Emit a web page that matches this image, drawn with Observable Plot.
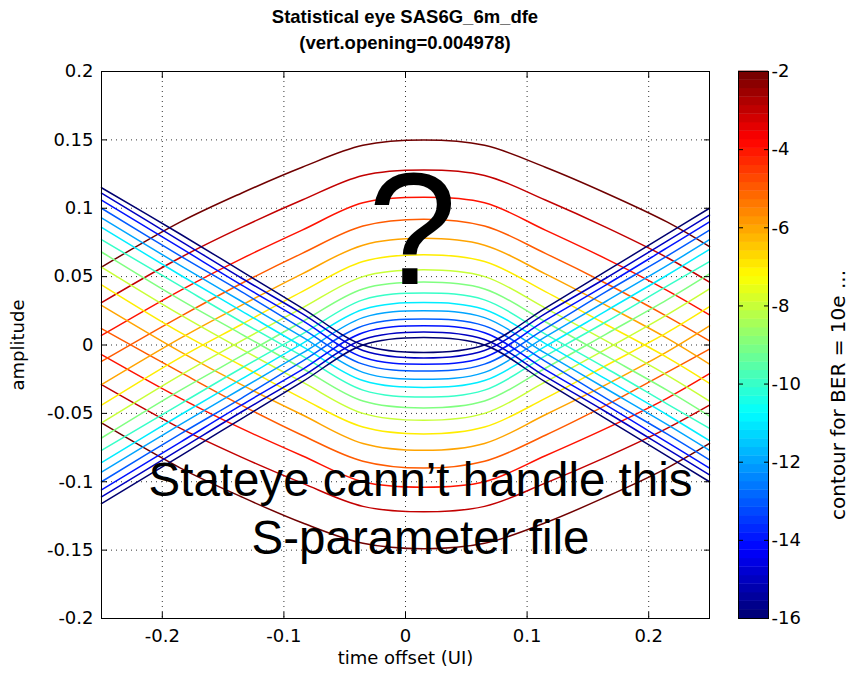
<!DOCTYPE html>
<html><head><meta charset="utf-8">
<script src="https://cdn.jsdelivr.net/npm/d3@7"></script>
<script src="https://cdn.jsdelivr.net/npm/@observablehq/plot@0.6"></script>
<style>
html,body{margin:0;padding:0;background:#fff;}
#wrap{position:relative;width:853px;height:676px;overflow:hidden;font-family:"Liberation Sans",Arial,sans-serif;background:#fff;}
.title{position:absolute;left:101px;width:608px;text-align:center;font-weight:bold;font-size:18.5px;line-height:22px;color:#000;white-space:nowrap;z-index:2;}
#main{position:absolute;left:0;top:0;}
#cbar{position:absolute;left:720px;top:0;}
</style></head><body>
<div id="wrap">
<div id="main"></div><div id="cbar"></div>
<div class="title" style="top:6px">Statistical eye SAS6G_6m_dfe</div>
<div class="title" style="top:32px">(vert.opening=0.004978)</div>
</div>
<script>
// contour levels (log10 BER)
const levels = [-2,-3,-4,-5,-6,-7,-8,-9,-10,-11,-12,-13,-14,-15,-16];
// time offsets (UI) at which the contour amplitudes were read
const xPos = [-0.25,-0.185,-0.135,-0.085,-0.035,0.015,0.065,0.115,0.165,0.215,0.25];
// upper contour of each level (amplitude)
const upperArcs = [
  [0.057,0.090,0.111,0.130,0.146,0.150,0.146,0.130,0.111,0.090,0.072],
  [0.031,0.064,0.086,0.106,0.124,0.128,0.124,0.106,0.086,0.064,0.046],
  [0.007,0.040,0.063,0.084,0.104,0.108,0.104,0.084,0.063,0.040,0.022],
  [-0.012,0.021,0.045,0.067,0.087,0.092,0.087,0.067,0.045,0.021,0.003],
  [-0.029,0.005,0.029,0.052,0.073,0.078,0.073,0.052,0.029,0.005,-0.014],
  [-0.044,-0.009,0.015,0.039,0.061,0.066,0.061,0.039,0.015,-0.009,-0.028],
  [-0.057,-0.022,0.003,0.027,0.050,0.055,0.050,0.027,0.003,-0.022,-0.041],
  [-0.068,-0.033,-0.008,0.017,0.041,0.046,0.041,0.017,-0.008,-0.033,-0.052],
  [-0.077,-0.043,-0.017,0.008,0.033,0.038,0.033,0.008,-0.017,-0.043,-0.061],
  [-0.086,-0.051,-0.025,0.001,0.026,0.031,0.026,0.001,-0.025,-0.051,-0.070],
  [-0.093,-0.058,-0.032,-0.006,0.020,0.025,0.020,-0.006,-0.032,-0.058,-0.077],
  [-0.100,-0.065,-0.039,-0.012,0.014,0.019,0.014,-0.012,-0.039,-0.065,-0.084],
  [-0.106,-0.071,-0.044,-0.018,0.009,0.014,0.009,-0.018,-0.044,-0.071,-0.090],
  [-0.111,-0.076,-0.049,-0.023,0.004,0.0095,0.004,-0.023,-0.049,-0.076,-0.095],
  [-0.116,-0.081,-0.054,-0.027,0.000,0.0055,0.000,-0.027,-0.054,-0.081,-0.100]
];
// lower contour of each level (amplitude)
const lowerArcs = [
  [-0.057,-0.090,-0.111,-0.130,-0.145,-0.149,-0.145,-0.130,-0.111,-0.090,-0.072],
  [-0.029,-0.061,-0.082,-0.101,-0.118,-0.122,-0.118,-0.101,-0.082,-0.061,-0.044],
  [-0.007,-0.039,-0.061,-0.081,-0.100,-0.104,-0.100,-0.081,-0.061,-0.039,-0.021],
  [0.012,-0.020,-0.044,-0.066,-0.085,-0.090,-0.085,-0.066,-0.044,-0.020,-0.003],
  [0.029,-0.005,-0.029,-0.051,-0.072,-0.077,-0.072,-0.051,-0.029,-0.005,0.014],
  [0.044,0.009,-0.015,-0.039,-0.060,-0.065,-0.060,-0.039,-0.015,0.009,0.028],
  [0.057,0.022,-0.003,-0.027,-0.050,-0.055,-0.050,-0.027,-0.003,0.022,0.041],
  [0.068,0.033,0.008,-0.017,-0.041,-0.046,-0.041,-0.017,0.008,0.033,0.052],
  [0.077,0.043,0.017,-0.008,-0.033,-0.038,-0.033,-0.008,0.017,0.043,0.061],
  [0.086,0.051,0.025,-0.001,-0.026,-0.031,-0.026,-0.001,0.025,0.051,0.070],
  [0.093,0.058,0.032,0.006,-0.020,-0.025,-0.020,0.006,0.032,0.058,0.077],
  [0.100,0.065,0.039,0.012,-0.014,-0.019,-0.014,0.012,0.039,0.065,0.084],
  [0.106,0.071,0.044,0.018,-0.009,-0.014,-0.009,0.018,0.044,0.071,0.090],
  [0.111,0.076,0.049,0.023,-0.004,-0.0095,-0.004,0.023,0.049,0.076,0.095],
  [0.115,0.081,0.054,0.027,0.000,-0.0055,0.000,0.027,0.054,0.081,0.100]
];
const xTicks = [-0.2,-0.1,0,0.1,0.2];
const yTicks = [-0.2,-0.15,-0.1,-0.05,0,0.05,0.1,0.15,0.2];
const cbTicks = [-2,-4,-6,-8,-10,-12,-14,-16];
// jet colormap stops
const jetStops = [-16,-14.25,-10.75,-7.25,-3.75,-2];
const jetColors = ["#000070","#0000ff","#00ffff","#ffff00","#ff0000","#700000"];

const rows = [];
levels.forEach((lv, i) => {
  xPos.forEach((x, j) => rows.push({id: "u" + lv, level: lv, x, y: upperArcs[i][j]}));
  xPos.forEach((x, j) => rows.push({id: "l" + lv, level: lv, x, y: lowerArcs[i][j]}));
});

const fmt = d => String(+(+d).toFixed(2));
const font = "DejaVu Sans, Verdana, sans-serif";
const colorOpt = {type: "linear", domain: jetStops, range: jetColors, interpolate: "rgb"};
const grid = {stroke: "#000", strokeOpacity: 0.8, strokeDasharray: "1,4", strokeWidth: 1};

const main = Plot.plot({
  width: 720, height: 676,
  marginTop: 71, marginBottom: 58, marginLeft: 101, marginRight: 11,
  style: {fontFamily: font, fontSize: "18px", background: "transparent", color: "#000"},
  x: {domain: [-0.25, 0.25]},
  y: {domain: [-0.2, 0.2]},
  color: colorOpt,
  marks: [
    Plot.gridX(xTicks, grid),
    Plot.gridY(yTicks, grid),
    Plot.line(rows, {x: "x", y: "y", z: "id", stroke: "level", strokeWidth: 1.5, curve: "catmull-rom"}),
    Plot.frame({stroke: "#000", strokeWidth: 1}),
    Plot.axisX(xTicks, {anchor: "bottom", tickSize: 0, tickPadding: 11, tickFormat: fmt, label: null, fontSize: 18}),
    Plot.axisX(xTicks, {anchor: "bottom", tickSize: -6, tickFormat: () => "", label: null}),
    Plot.axisX(xTicks, {anchor: "top", tickSize: -6, tickFormat: () => "", label: null}),
    Plot.axisY(yTicks, {anchor: "left", tickSize: 0, tickPadding: 8, tickFormat: fmt, label: null, fontSize: 18}),
    Plot.axisY(yTicks, {anchor: "left", tickSize: -6, tickFormat: () => "", label: null}),
    Plot.axisY(yTicks, {anchor: "right", tickSize: -6, tickFormat: () => "", label: null}),
    Plot.text(["amplitude"], {frameAnchor: "left", dx: -83, rotate: -90, textAnchor: "middle", fontSize: 18}),
    Plot.text(["time offset (UI)"], {frameAnchor: "bottom", dy: 45, textAnchor: "middle", fontSize: 18}),
    Plot.text(["?"], {frameAnchor: "top-left", dx: 311, dy: 212, textAnchor: "middle", lineAnchor: "bottom", fontSize: 160, fill: "#000", fontFamily: "Liberation Sans, Arial, sans-serif"}),
    Plot.text(["Stateye cann\u2019t handle this"], {frameAnchor: "top-left", dx: 319, dy: 424, textAnchor: "middle", lineAnchor: "bottom", fontSize: 47.5, fill: "#000", fontFamily: "Liberation Sans, Arial, sans-serif"}),
    Plot.text(["S-parameter file"], {frameAnchor: "top-left", dx: 319, dy: 482, textAnchor: "middle", lineAnchor: "bottom", fontSize: 47.5, fill: "#000", fontFamily: "Liberation Sans, Arial, sans-serif"})
  ]
});
document.getElementById("main").appendChild(main);

const cbStep = 14 / 64;
const cbSteps = d3.range(64).map(i => -16 + i * cbStep);
const cb = Plot.plot({
  width: 133, height: 676,
  marginTop: 71, marginBottom: 58, marginLeft: 18, marginRight: 85,
  style: {fontFamily: font, fontSize: "18px", background: "transparent", color: "#000"},
  x: {axis: null},
  y: {domain: [-16, -2], axis: null},
  color: colorOpt,
  marks: [
    Plot.rect(cbSteps, {y1: d => d, y2: d => d + cbStep + 0.01, fill: d => d + cbStep / 2}),
    Plot.frame({stroke: "#000"}),
    Plot.axisY(cbTicks, {anchor: "right", tickSize: 0, tickPadding: 3, tickFormat: d => String(d), label: null, fontSize: 18}),
    Plot.axisY(cbTicks, {anchor: "right", tickSize: -5, tickFormat: () => "", label: null}),
    Plot.axisY(cbTicks, {anchor: "left", tickSize: -5, tickFormat: () => "", label: null}),
    Plot.text(["contour for BER = 10e ..."], {frameAnchor: "right", dx: 70, dy: 50, rotate: -90, textAnchor: "middle", fontSize: 20})
  ]
});
document.getElementById("cbar").appendChild(cb);
</script>
</body></html>
